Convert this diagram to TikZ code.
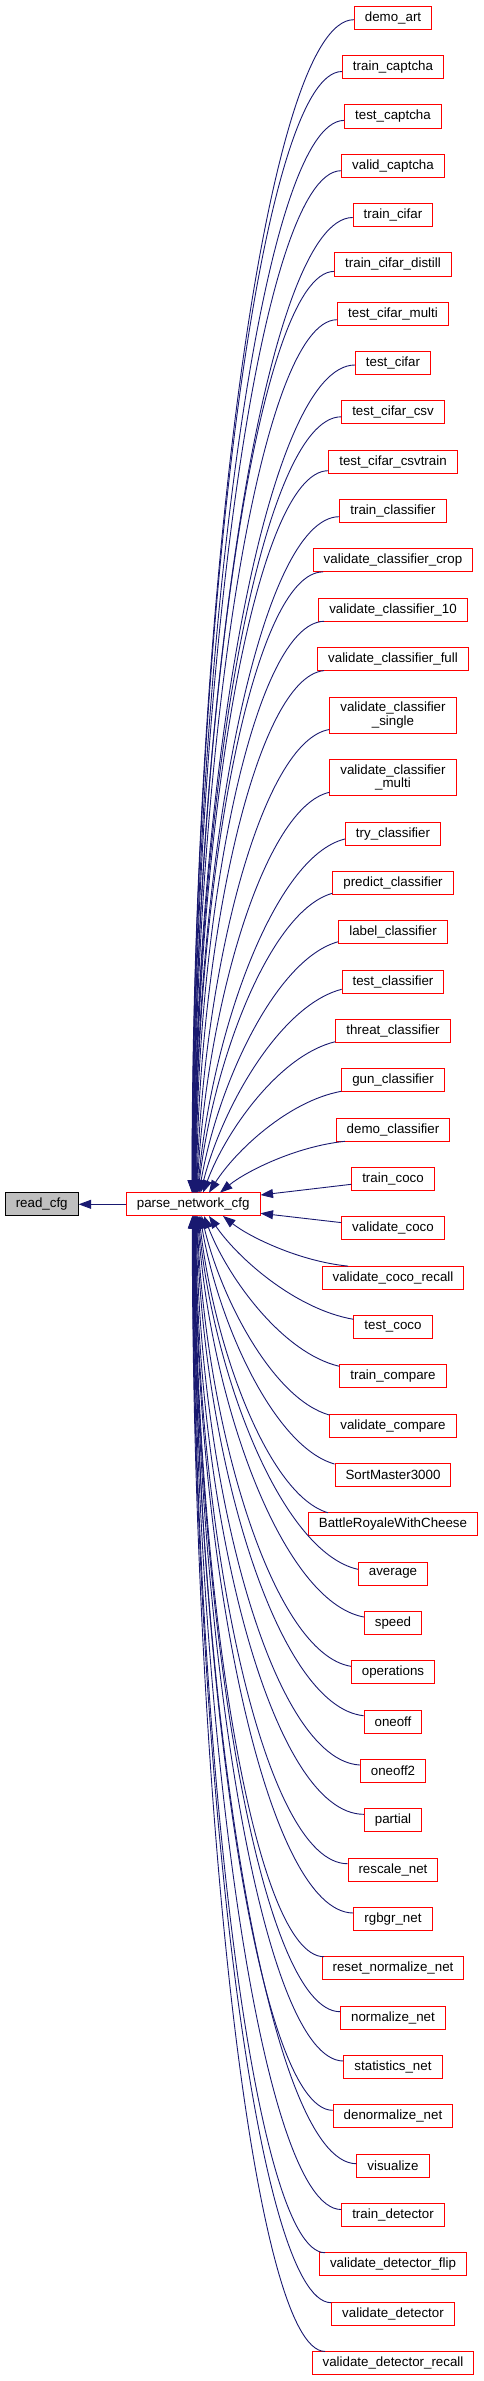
\documentclass[tikz,border=0pt]{standalone}
\usepackage{fontspec}
\setmainfont{Liberation Sans}
\usetikzlibrary{arrows.meta,calc}
\definecolor{edgeblue}{RGB}{25,25,112}
\definecolor{nodered}{RGB}{255,0,0}
\definecolor{rootgray}{RGB}{191,191,191}
\tikzset{
  fn/.style={draw=nodered, fill=white, line width=1pt, minimum height=23.3pt,
    inner xsep=10.5pt, inner ysep=0pt, align=center,
    font=\fontsize{13.33}{13.4}\selectfont},
  rootnode/.style={fn, draw=black, fill=rootgray},
  edge/.style={draw=edgeblue, line width=0.9pt, -{Triangle[length=12.5pt,width=9pt]}},
}
\begin{document}
\begin{tikzpicture}[x=1pt,y=-1pt]
\useasboundingbox (0,0) rectangle (483,2381);
\node[rootnode] (read) at (41.7,1204.3) {read\_cfg};
\node[fn] (parse) at (193.2,1204.3) {parse\_network\_cfg};
\draw[edge] (parse.west) -- (read.east);

\foreach \i/\yc/\mh/\txt/\d/\tx/\mx in {
1/17.7/23.3/demo\_art/2/192/324,
2/67.0/23.3/train\_captcha/4.5/192.3/324,
3/116.4/23.3/test\_captcha/4/192.6/324,
4/165.7/23.3/valid\_captcha/5/193/324,
5/215.0/23.3/train\_cifar/2.5/193.3/324,
6/264.4/23.3/train\_cifar\_distill/7/193.6/324,
7/313.7/23.3/test\_cifar\_multi/6/194/324,
8/363.0/23.3/test\_cifar/2/194.3/324,
9/412.3/23.3/test\_cifar\_csv/4.5/194.6/324,
10/461.7/23.3/test\_cifar\_csvtrain/9/195/324,
11/511.0/23.3/train\_classifier/5.7/195.3/324,
12/560.3/23.3/validate\_classifier\_crop/6/195.6/323,
13/609.7/23.3/validate\_classifier\_10/6/196/324,
14/659.0/23.3/validate\_classifier\_full/6/196.3/324,
15/715.2/36.4/validate\_classifier\\\_single/14.3/196.7/324,
16/777.7/36.4/validate\_classifier\\\_multi/14.6/197/324,
17/833.7/23.3/try\_classifier/5.3/197.5/324,
18/883.0/23.3/predict\_classifier/10.3/198/324,
19/932.3/23.3/label\_classifier/9.4/199/324,
20/981.7/23.3/test\_classifier/7.6/200.5/324,
21/1031.0/23.3/threat\_classifier/10.7/203/324,
22/1080.3/23.3/gun\_classifier/11/209/341,
23/1129.7/23.3/demo\_classifier/11/220/345,
26/1277.7/23.3/validate\_coco\_recall/11/223/348,
27/1327.0/23.3/test\_coco/7.7/209/324,
28/1376.3/23.3/train\_compare/10/204/324,
29/1425.7/23.3/validate\_compare/10.7/201.5/324,
30/1475.0/23.3/SortMaster3000/11/200/324,
31/1524.3/23.3/BattleRoyaleWithCheese/11/199/328,
32/1573.7/23.3/average/4.4/198/324,
33/1623.0/23.3/speed/6/197.5/324,
34/1672.3/23.3/operations/6/197/324,
35/1721.7/23.3/oneoff/6/196.7/324,
36/1771.0/23.3/oneoff2/6/196.3/324,
37/1820.3/23.3/partial/6/196/324,
38/1869.7/23.3/rescale\_net/6/195.6/324,
39/1919.0/23.3/rgbgr\_net/6/195.3/324,
40/1968.3/23.3/reset\_normalize\_net/6/195/324,
41/2017.7/23.3/normalize\_net/6/194.6/324,
42/2067.0/23.3/statistics\_net/6/194.3/324,
43/2116.3/23.3/denormalize\_net/6/194/324,
44/2165.7/23.3/visualize/2/193.6/324,
45/2215.0/23.3/train\_detector/5.5/193.3/324,
46/2264.3/23.3/validate\_detector\_flip/6/193/325,
47/2313.7/23.3/validate\_detector/11/192.6/324,
48/2363.0/23.3/validate\_detector\_recall/6/192.3/325%
}{
  \node[fn, minimum height=\mh pt] (n\i) at (393,\yc) {\txt};
  \pgfmathsetmacro\W{min(1,max(0,(abs(\yc-1204.3)-110)/500))}
  \pgfmathsetmacro\s{ifthenelse(\yc<1204.3,1,-1)}
  \pgfmathsetmacro\dx{\tx-193.2}
  \pgfmathsetmacro\dy{\s*11.65}
  \coordinate (t\i) at ([xshift=\dx pt,yshift=\dy pt]parse.center);
  \path let \p3=(n\i.west) in
    ({max(\x3,\mx)}, {\y3-\s*ifthenelse(\x3<\mx,11.6,\d)}) coordinate (s\i);
  \draw[edge] let \p1=(s\i), \p2=(t\i) in
    (s\i) .. controls ({\x1-(0.4+0.15*\W)*(\x1-\x2)}, {\y1-0.1*(1-\W)*(\y1-\y2)})
    and ({\x2+0.2*(1-\W)*(\x1-\x2)}, {\y2+(0.4+0.1*\W)*(\y1-\y2)}) .. (t\i);
}

\node[fn] (n24) at (393,1179.0) {train\_coco};
\node[fn] (n25) at (393,1228.3) {validate\_coco};
\draw[edge] ([yshift=-5.3pt]n24.west) -- ([yshift=9.3pt]parse.east);
\draw[edge] ([yshift=5.7pt]n25.west) -- ([yshift=-9pt]parse.east);
\end{tikzpicture}
\end{document}
